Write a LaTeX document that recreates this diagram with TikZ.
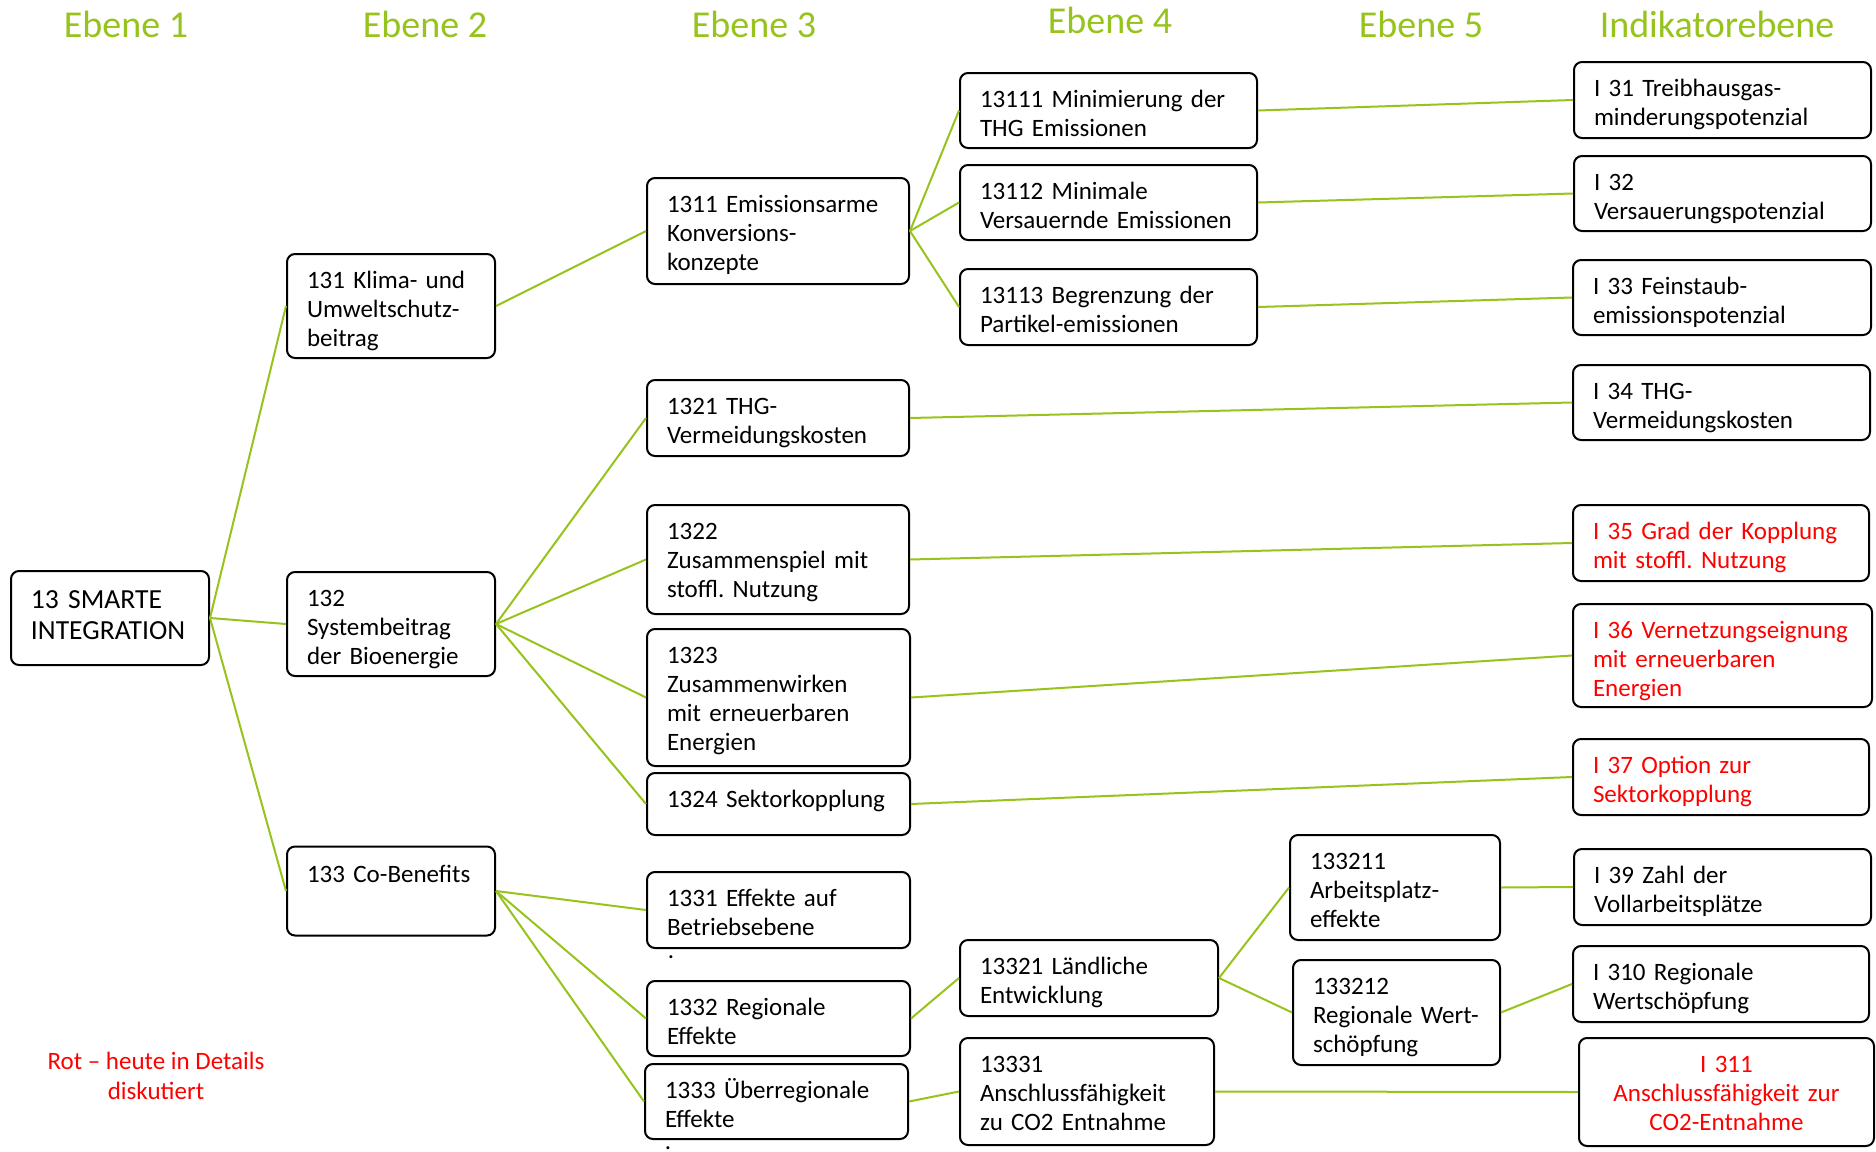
\documentclass[tikz,border=0pt]{standalone}
\usepackage{fontspec}
\setmainfont{Carlito}
\usepackage{tikz}
\frenchspacing

\definecolor{ebenegreen}{RGB}{150,195,28}
\newcommand{\boxfont}{\fontsize{12.5}{14.65}\selectfont}
\newcommand{\headfont}{\fontsize{19}{22}\selectfont}

\begin{document}
\begin{tikzpicture}[x=0.5pt, y=-0.5pt,
  box/.style 2 args={draw, rounded corners=4pt, line width=1pt, inner xsep=10pt, inner ysep=0pt,
    text width=#1, minimum height=#2, text height=17pt, text depth=#2-17pt, align=left, font=\boxfont},
  hot/.style={text=red},
  ebene/.style={text=ebenegreen, font=\headfont},
  every edge/.style={draw=ebenegreen, line width=1pt}]

  \useasboundingbox (0,0) rectangle (1876,1152);

  % Ebenen
  \node[ebene] (h1) at (126,24) {Ebene 1};
  \node[ebene] (h2) at (425,24) {Ebene 2};
  \node[ebene] (h3) at (754,24) {Ebene 3};
  \node[ebene] (h4) at (1110,20) {Ebene 4};
  \node[ebene] (h5) at (1421,24) {Ebene 5};
  \node[ebene] (hI) at (1717,24) {Indikatorebene};

  % Ebene 1 und 2
  \node[box={79pt}{47pt}, font=\fontsize{13.8}{15.5}\selectfont, text height=18.5pt, text depth=28.5pt]
    (E13) at (110,618) {13 SMARTE\\INTEGRATION};
  \node[box={84pt}{52pt}] (E131) at (391,306) {131 Klima- und\\Umweltschutz-\\beitrag};
  \node[box={84pt}{52pt}] (E132) at (391,624) {132\\Systembeitrag\\der Bioenergie};
  \node[box={84pt}{44.5pt}, text height=18pt, text depth=26.5pt] (E133) at (391,891) {133 Co-Benefits};

  % Ebene 3
  \node[box={111pt}{53pt}] (E1311) at (778,231) {1311 Emissionsarme\\Konversions-\\konzepte};
  \node[box={111pt}{38pt}] (E1321) at (778,418) {1321 THG-\\Vermeidungskosten};
  \node[box={111pt}{54.5pt}] (E1322) at (778,559.5) {1322\\Zusammenspiel mit\\stoffl. Nutzung};
  \node[box={111.5pt}{68.5pt}] (E1323) at (778.5,697.5) {1323\\Zusammenwirken\\mit erneuerbaren\\Energien};
  \node[box={111.5pt}{31pt}] (E1324) at (778.5,804) {1324 Sektorkopplung};
  \node[box={111.5pt}{38pt}] (E1331) at (778.5,910) {1331 Effekte auf\\Betriebsebene};
  \node[box={111.5pt}{37.5pt}] (E1332) at (778.5,1018.5) {1332 Regionale\\Effekte};
  \node[box={111.5pt}{37.5pt}] (E1333) at (776.5,1101.5) {1333 Überregionale\\Effekte};
  \node[font=\boxfont, inner sep=0pt] (dotA) at (671,957) {.};
  \node[font=\boxfont, inner sep=0pt] (dotB) at (668,1148) {.};

  % Ebene 4 und 5
  \node[box={128.5pt}{37.5pt}] (E13111) at (1108.5,110.5) {13111 Minimierung der\\THG Emissionen};
  \node[box={128.5pt}{37.5pt}] (E13112) at (1108.5,202.5) {13112 Minimale\\Versauernde Emissionen};
  \node[box={128.5pt}{38pt}] (E13113) at (1108.5,307) {13113 Begrenzung der\\Partikel-emissionen};
  \node[box={109pt}{38pt}] (E13321) at (1089,978) {13321 Ländliche\\Entwicklung};
  \node[box={107pt}{53.5pt}] (E13331) at (1087,1091.5) {13331\\Anschlussfähigkeit\\zu CO2 Entnahme};
  \node[box={85pt}{52.5pt}] (E133211) at (1395,887.5) {133211\\Arbeitsplatz-\\effekte};
  \node[box={83.5pt}{52.5pt}] (E133212) at (1396.5,1012.5) {133212\\Regionale Wert-\\schöpfung};

  % Indikatoren
  \node[box={128.5pt}{38pt}] (I31) at (1722.5,100) {I 31 Treibhausgas-\\minderungspotenzial};
  \node[box={128.5pt}{37.5pt}] (I32) at (1722.5,193.5) {I 32\\Versauerungspotenzial};
  \node[box={129pt}{37.5pt}] (I33) at (1722,297.5) {I 33 Feinstaub-\\emissionspotenzial};
  \node[box={128.5pt}{37.5pt}] (I34) at (1721.5,402.5) {I 34 THG-\\Vermeidungskosten};
  \node[box={128pt}{38pt}, hot] (I35) at (1721,543) {I 35 Grad der Kopplung\\mit stoffl. Nutzung};
  \node[box={129.5pt}{51.5pt}, hot] (I36) at (1722.5,655.5) {I 36 Vernetzungseignung\\mit erneuerbaren\\Energien};
  \node[box={128pt}{38pt}, hot] (I37) at (1721,777) {I 37 Option zur\\Sektorkopplung};
  \node[box={128.5pt}{38pt}] (I39) at (1722.5,887) {I 39 Zahl der\\Vollarbeitsplätze};
  \node[box={128pt}{38pt}] (I310) at (1721,984) {I 310 Regionale\\Wertschöpfung};
  \node[box={127.5pt}{54pt}, hot, align=center] (I311) at (1726.5,1092) {I 311\\Anschlussfähigkeit zur\\CO2-Entnahme};

  \node[font=\boxfont, text=red, align=center] (legend) at (156,1076) {Rot -- heute in Details\\diskutiert};

  \path (E13.east) edge (E131.west)
                   edge (E132.west)
                   edge (E133.west)
        (E131.east) edge (E1311.west)
        (E132.east) edge (E1321.west)
                    edge (E1322.west)
                    edge (E1323.west)
                    edge (E1324.west)
        (E133.east) edge (E1331.west)
                    edge (E1332.west)
                    edge (E1333.west)
        (E1311.east) edge (E13111.west)
                     edge (E13112.west)
                     edge (E13113.west)
        (E13111.east) edge (I31.west)
        (E13112.east) edge (I32.west)
        (E13113.east) edge (I33.west)
        (E1321.east) edge (I34.west)
        (E1322.east) edge (I35.west)
        (E1323.east) edge (I36.west)
        (E1324.east) edge (I37.west)
        (E1332.east) edge (E13321.west)
        (E13321.east) edge (E133211.west)
                      edge (E133212.west)
        (E133211.east) edge (I39.west)
        (E133212.east) edge (I310.west)
        (E1333.east) edge (E13331.west)
        (E13331.east) edge (I311.west);

\end{tikzpicture}
\end{document}
